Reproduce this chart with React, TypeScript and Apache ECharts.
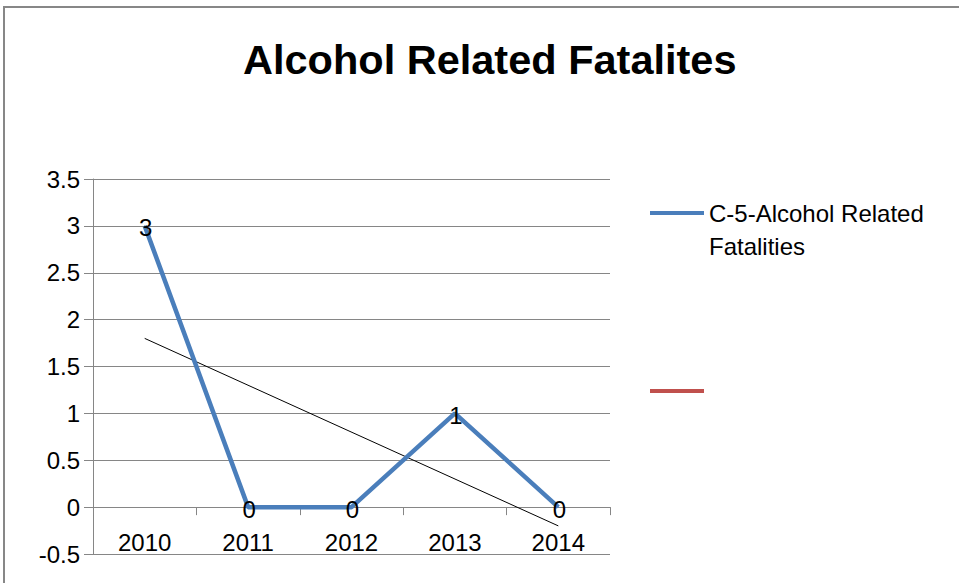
import React, { useEffect, useRef } from "react";
import * as echarts from "echarts";

const categories = ["2010", "2011", "2012", "2013", "2014"];
const fatalities = [3, 0, 0, 1, 0];
const trendValues: (number | null)[] = [1.8, null, null, null, -0.2];
const seriesName = "C-5-Alcohol Related Fatalities";
const legendLine1 = "C-5-Alcohol Related";
const legendLine2 = "Fatalities";
const secondSeriesName = "Series 2";
const titleText = "Alcohol Related Fatalites";

const FONT = "'Liberation Sans', Arial, sans-serif";

export default function App() {
  const ref = useRef<HTMLDivElement>(null);
  useEffect(() => {
    if (!ref.current) return;
    const chart = echarts.init(ref.current, undefined, { renderer: "svg" });
    chart.setOption({
      animation: false,
      backgroundColor: "#ffffff",
      title: {
        text: titleText,
        left: 243,
        top: 38,
        padding: 0,
        textStyle: { fontFamily: FONT, fontSize: 41.5, fontWeight: "bold", color: "#000" },
      },
      graphic: [
        {
          type: "rect",
          shape: { x: 4, y: 7, width: 980, height: 600 },
          style: { fill: "none", stroke: "#878787", lineWidth: 2 },
          silent: true,
        },
        {
          type: "text",
          x: 709,
          y: 246,
          style: {
            text: legendLine2,
            fontFamily: FONT,
            fontSize: 24,
            fill: "#000",
            verticalAlign: "middle",
            align: "left",
          },
        },
      ],
      legend: [
        {
          data: [seriesName],
          orient: "vertical",
          left: 650,
          top: 201,
          padding: 0,
          icon: "rect",
          itemWidth: 54,
          itemHeight: 4,
          formatter: () => legendLine1,
          textStyle: {
            fontFamily: FONT,
            fontSize: 24,
            color: "#000",
            lineHeight: 24,
          },
        },
        {
          data: [secondSeriesName],
          orient: "vertical",
          left: 650,
          top: 389,
          padding: 0,
          icon: "rect",
          itemWidth: 54,
          itemHeight: 4,
          formatter: () => "",
          textStyle: { fontFamily: FONT, fontSize: 24, color: "#000" },
        },
      ],
      grid: {
        left: 93,
        right: 349,
        top: 179,
        bottom: 29,
        containLabel: false,
        outerBoundsMode: "none",
      },
      xAxis: {
        type: "category",
        data: categories,
        boundaryGap: true,
        axisLine: { show: true, onZero: true, lineStyle: { color: "#868686", width: 1 } },
        axisTick: { show: true, length: 8, alignWithLabel: false, lineStyle: { color: "#868686" } },
        axisLabel: { margin: -24, fontFamily: FONT, fontSize: 24, color: "#000" },
        splitLine: { show: false },
      },
      yAxis: {
        type: "value",
        min: -0.5,
        max: 3.5,
        interval: 0.5,
        axisLine: { show: true, lineStyle: { color: "#868686", width: 1 } },
        axisTick: { show: true, length: 9, lineStyle: { color: "#868686" } },
        axisLabel: { margin: 13, fontFamily: FONT, fontSize: 24, color: "#000" },
        splitLine: { show: true, lineStyle: { color: "#868686", width: 1 } },
      },
      series: [
        {
          name: "Trend",
          type: "line",
          data: trendValues,
          connectNulls: true,
          symbol: "none",
          lineStyle: { color: "#000", width: 1 },
          itemStyle: { color: "#000" },
          z: 1,
          silent: true,
        },
        {
          name: seriesName,
          type: "line",
          data: fatalities,
          symbol: "circle",
          symbolSize: 1,
          showSymbol: true,
          itemStyle: { color: "#4A7EBB" },
          lineStyle: { color: "#4A7EBB", width: 4.5 },
          color: "#4A7EBB",
          z: 3,
          label: {
            show: true,
            position: "inside",
            offset: [1, 2],
            fontFamily: FONT,
            fontSize: 24,
            color: "#000",
          },
        },
        {
          name: secondSeriesName,
          type: "line",
          data: [],
          color: "#C0504D",
          itemStyle: { color: "#C0504D" },
          lineStyle: { color: "#C0504D", width: 4.5 },
        },
      ],
    });
    return () => chart.dispose();
  }, []);
  return (
    <div
      ref={ref}
      style={{ position: "fixed", left: 0, top: 0, width: 959, height: 583, background: "#fff" }}
    />
  );
}
